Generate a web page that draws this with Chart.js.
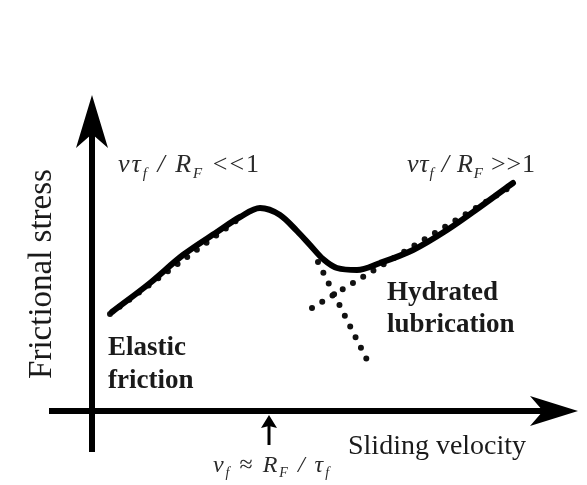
<!DOCTYPE html>
<html>
<head>
<meta charset="utf-8">
<script src="https://cdn.jsdelivr.net/npm/chart.js@4.4.0/dist/chart.umd.min.js"></script>
<style>
  html, body { margin: 0; padding: 0; background: #fff; }
  #wrap { width: 587px; height: 485px; }
</style>
</head>
<body>
<div id="wrap"><canvas id="friction"></canvas></div>
<script>
// frictional stress vs sliding velocity (arbitrary units, origin at the axes crossing)
var velocity = [0.20, 0.58, 0.91, 1.25, 1.48, 1.68, 1.88, 2.05, 2.18, 2.31, 2.45, 2.65, 2.88, 3.21, 3.55, 3.88, 4.21];
var stress   = [0.99, 1.28, 1.56, 1.79, 1.94, 2.03, 1.96, 1.80, 1.66, 1.52, 1.43, 1.41, 1.48, 1.61, 1.81, 2.04, 2.28];

// dotted asymptotes
var elasticRiseV = [0.18, 1.48];
var elasticRiseS = [0.97, 1.93];
var elasticDropV = [2.26, 2.76];
var elasticDropS = [1.49, 0.49];
var hydratedV    = [2.20, 4.23];
var hydratedS    = [1.03, 2.27];

var xTitle = 'Sliding velocity';
var yTitle = 'Frictional stress';
var crossover = 1.77; // v_f marked on the velocity axis

function pts(xs, ys) {
  return xs.map(function (x, i) { return { x: x, y: ys[i] }; });
}

function dotted(xs, ys) {
  return {
    data: pts(xs, ys),
    showLine: true,
    borderColor: '#111',
    borderWidth: 6,
    borderDash: [0, 12],
    borderCapStyle: 'round',
    pointRadius: 0,
    order: 1
  };
}

// arrow head with swept-back barbs, pointing along (dx, dy)
function arrowHead(ctx, tx, ty, dx, dy, len, half, notch) {
  var bx = tx - dx * len, by = ty - dy * len;
  var nx = -dy, ny = dx;
  ctx.beginPath();
  ctx.moveTo(tx, ty);
  ctx.lineTo(bx + nx * half, by + ny * half);
  ctx.lineTo(tx - dx * (len - notch), ty - dy * (len - notch));
  ctx.lineTo(bx - nx * half, by - ny * half);
  ctx.closePath();
  ctx.fill();
}

// text runs: [text, style, isSubscript]
function drawRuns(ctx, runs, x, y, size, align, gap) {
  var w = 0;
  function font(r) {
    var s = r[2] ? Math.round(size * 0.58) : size;
    ctx.font = r[1] + ' ' + s + 'px "Liberation Serif"';
  }
  runs.forEach(function (r) {
    font(r);
    w += ctx.measureText(r[0]).width + gap * r[0].length;
  });
  var cx = align === 'center' ? x - w / 2 : x;
  runs.forEach(function (r) {
    font(r);
    for (var i = 0; i < r[0].length; i++) {
      var ch = r[0][i];
      ctx.fillText(ch, cx, y + (r[2] ? size * 0.22 : 0));
      cx += ctx.measureText(ch).width + gap;
    }
  });
}

var sketch = {
  id: 'sketch',
  beforeDatasetsDraw: function (chart) {
    var c = chart.ctx, sx = chart.scales.x, sy = chart.scales.y;
    var x0 = sx.getPixelForValue(0), y0 = sy.getPixelForValue(0);
    c.save();
    c.strokeStyle = '#000';
    c.fillStyle = '#000';
    c.lineWidth = 6;
    // velocity axis
    var xEnd = sx.getPixelForValue(4.86);
    c.beginPath();
    c.moveTo(sx.getPixelForValue(-0.43), y0);
    c.lineTo(xEnd - 20, y0);
    c.stroke();
    arrowHead(c, xEnd, y0, 1, 0, 48, 15, 13);
    // stress axis
    var yEnd = sy.getPixelForValue(3.16);
    c.beginPath();
    c.moveTo(x0, sy.getPixelForValue(-0.41));
    c.lineTo(x0, yEnd + 20);
    c.stroke();
    arrowHead(c, x0, yEnd, 0, -1, 53, 16, 14);
    // marker of the crossover velocity
    var mx = sx.getPixelForValue(crossover);
    c.lineWidth = 3;
    c.beginPath();
    c.moveTo(mx, sy.getPixelForValue(-0.34));
    c.lineTo(mx, sy.getPixelForValue(-0.12));
    c.stroke();
    arrowHead(c, mx, sy.getPixelForValue(-0.04), 0, -1, 13, 8, 2);
    c.restore();
  },
  afterDatasetsDraw: function (chart) {
    var c = chart.ctx, sx = chart.scales.x, sy = chart.scales.y;
    function X(v) { return sx.getPixelForValue(v); }
    function Y(v) { return sy.getPixelForValue(v); }
    c.save();
    c.fillStyle = '#1a1a1a';
    c.textBaseline = 'alphabetic';

    c.font = '28px "Liberation Serif"';
    c.textAlign = 'left';
    c.fillText(xTitle, X(2.56), Y(-0.43));

    c.save();
    c.translate(X(-0.41), Y(1.37));
    c.rotate(-Math.PI / 2);
    c.textAlign = 'center';
    c.font = '33px "Liberation Serif"';
    c.fillText(yTitle, 0, 0);
    c.restore();

    c.textAlign = 'left';
    c.font = 'bold 27px "Liberation Serif"';
    c.fillText('Elastic', X(0.16), Y(0.56));
    c.fillText('friction', X(0.16), Y(0.23));
    c.fillText('Hydrated', X(2.95), Y(1.11));
    c.fillText('lubrication', X(2.95), Y(0.79));

    c.fillStyle = '#2a2a2a';
    drawRuns(c, [['v', 'italic'], ['\u03c4', 'italic'], ['f', 'italic', true], [' / ', 'italic'],
                 ['R', 'italic'], ['F', 'italic', true], [' <<1', '']], X(0.26), Y(2.39), 26, 'left', 2);
    drawRuns(c, [['v', 'italic'], ['\u03c4', 'italic'], ['f', 'italic', true], [' / ', 'italic'],
                 ['R', 'italic'], ['F', 'italic', true], [' >>1', '']], X(3.15), Y(2.39), 26, 'left', 0.8);
    drawRuns(c, [['v', 'italic'], ['f', 'italic', true], [' \u2248 ', ''], ['R', 'italic'],
                 ['F', 'italic', true], [' / ', 'italic'], ['\u03c4', 'italic'], ['f', 'italic', true]],
             X(crossover) + 3, Y(-0.61), 24, 'center', 2);
    c.restore();
  }
};

new Chart(document.getElementById('friction'), {
  type: 'scatter',
  data: {
    datasets: [
      {
        data: pts(velocity, stress),
        showLine: true,
        borderColor: '#000',
        borderWidth: 6,
        borderCapStyle: 'round',
        borderJoinStyle: 'round',
        cubicInterpolationMode: 'monotone',
        pointRadius: 0,
        order: 0
      },
      dotted(elasticRiseV, elasticRiseS),
      dotted(elasticDropV, elasticDropS),
      dotted(hydratedV, hydratedS)
    ]
  },
  options: {
    responsive: true,
    maintainAspectRatio: false,
    animation: false,
    layout: { padding: 0 },
    plugins: {
      legend: { display: false },
      tooltip: { enabled: false }
    },
    scales: {
      x: { type: 'linear', min: -0.92, max: 4.95, display: false },
      y: { type: 'linear', min: -0.74, max: 4.11, display: false }
    }
  },
  plugins: [sketch]
});
</script>
</body>
</html>
